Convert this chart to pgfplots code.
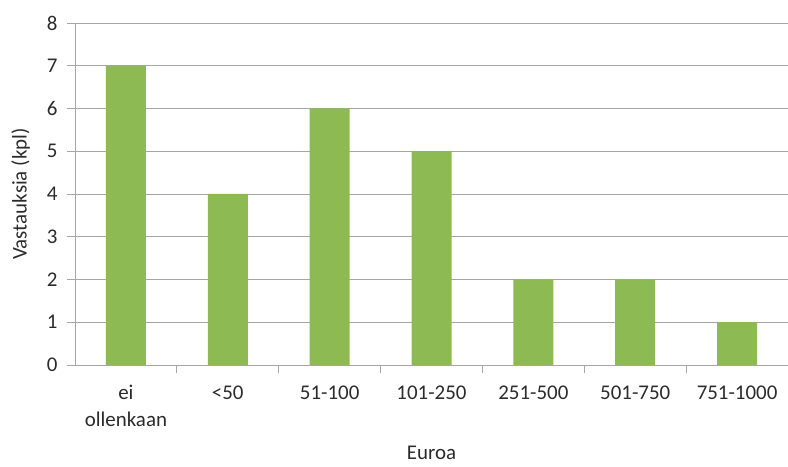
\documentclass[border=0pt]{standalone}
\usepackage{pgfplots}
\pgfplotsset{compat=1.18}
\usepackage{fontspec}
\setmainfont{Carlito}
\definecolor{bargreen}{HTML}{8DBA52}
\definecolor{gridgray}{HTML}{A6A6A6}
\definecolor{txt}{HTML}{2B2B2B}
\begin{document}
\begin{tikzpicture}
\begin{axis}[
  scale only axis,
  width=713bp, height=342bp,
  font=\fontsize{21}{27}\selectfont,
  every tick label/.append style={txt},
  every axis label/.append style={txt},
  /pgf/number format/assume math mode=true,
  ybar, bar width=40bp,
  ymin=0, ymax=8, ytick={0,...,8},
  xmin=-0.5, xmax=6.5,
  xtick={0,...,6},
  xticklabels={ei\\ollenkaan,{<50},51-100,101-250,251-500,501-750,751-1000},
  xticklabel style={align=center, yshift=-9bp},
  major x tick style={draw=none},
  minor xtick={0.5,1.5,...,5.5},
  minor tick length=8bp,
  minor x tick style={gridgray, line width=0.8pt},
  major tick length=8bp,
  axis x line*=bottom, axis y line*=left,
  axis line style={gridgray, line width=0.8pt, -},
  tick style={gridgray, line width=0.8pt},
  tick align=outside,
  ymajorgrids,
  grid style={gridgray, line width=0.8pt},
  yticklabel style={xshift=-6bp},
  ylabel={Vastauksia (kpl)},
  xlabel={Euroa},
  ylabel style={yshift=10bp},
  xlabel style={yshift=-12bp},
]
\addplot[fill=bargreen, draw=none] coordinates {(0,7)(1,4)(2,6)(3,5)(4,2)(5,2)(6,1)};
\coordinate (ll) at (rel axis cs:0,0);
\coordinate (ur) at (rel axis cs:1,1);
\end{axis}
\pgfresetboundingbox
\path ([xshift=-75bp,yshift=-102bp]ll) rectangle ([yshift=23bp]ur);
\end{tikzpicture}
\end{document}
